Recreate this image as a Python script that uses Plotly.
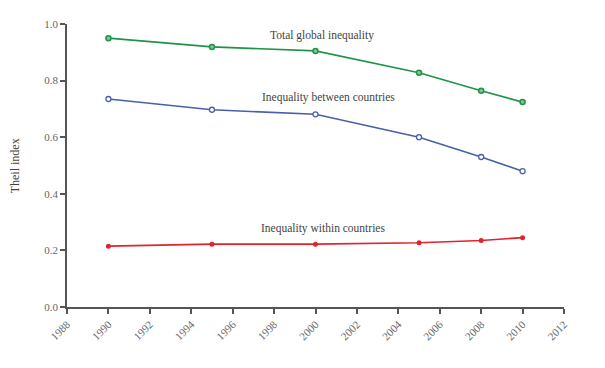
import plotly.graph_objects as go

years = [1990, 1995, 2000, 2005, 2008, 2010]
total_global = [0.950, 0.919, 0.905, 0.828, 0.764, 0.724]
between_countries = [0.735, 0.697, 0.681, 0.600, 0.530, 0.480]
within_countries = [0.215, 0.222, 0.222, 0.227, 0.235, 0.245]
x_ticks = list(range(1988, 2013, 2))
y_ticks = [0.0, 0.2, 0.4, 0.6, 0.8, 1.0]

FONT = "Liberation Serif"
fig = go.Figure()
fig.add_trace(go.Scatter(x=years, y=total_global, mode="lines+markers",
                         line=dict(color="#1f9447", width=1.6),
                         marker=dict(size=5, color="#7fc79a", symbol="circle",
                                     line=dict(color="#1f9447", width=1.5)),
                         showlegend=False))
fig.add_trace(go.Scatter(x=years, y=between_countries, mode="lines+markers",
                         line=dict(color="#4a5fa8", width=1.6),
                         marker=dict(size=5, color="white", symbol="circle",
                                     line=dict(color="#4a5fa8", width=1.3)),
                         showlegend=False))
fig.add_trace(go.Scatter(x=years, y=within_countries, mode="lines+markers",
                         line=dict(color="#e0242e", width=1.6),
                         marker=dict(size=5, color="#e0242e", symbol="circle"),
                         showlegend=False))

ann_font = dict(family=FONT, size=11.5, color="#444444")
fig.add_annotation(x=2000.3, y=0.958, text="Total global inequality", showarrow=False,
                   font=ann_font, yanchor="middle")
fig.add_annotation(x=2000.65, y=0.742, text="Inequality between countries", showarrow=False,
                   font=ann_font, yanchor="middle")
fig.add_annotation(x=2000.36, y=0.279, text="Inequality within countries", showarrow=False,
                   font=ann_font, yanchor="middle")
fig.add_annotation(xref="paper", yref="paper", x=-0.105, y=0.5, xanchor="center", yanchor="middle",
                   text="Theil index", textangle=-90, showarrow=False,
                   font=dict(family=FONT, size=12, color="#444444"))

fig.update_layout(
    width=605, height=368,
    margin=dict(l=59, r=49, t=16, b=69, autoexpand=False),
    plot_bgcolor="white", paper_bgcolor="white",
    font=dict(family=FONT, color="#555555"),
)
fig.update_xaxes(range=[1988, 2012], tickvals=x_ticks, ticktext=[str(t) for t in x_ticks],
                 tickangle=-45, showgrid=False, zeroline=False, showline=True, automargin=False,
                 linecolor="#555555", linewidth=1.5, ticks="outside", ticklen=5,
                 tickcolor="#555555", tickwidth=1.5, tickfont=dict(size=11, color="#666666"))
fig.update_yaxes(range=[0, 1.0], tickvals=y_ticks, ticktext=[f"{v:.1f}" for v in y_ticks],
                 showgrid=False, zeroline=False, showline=True, automargin=False,
                 linecolor="#555555", linewidth=1.5, ticks="outside", ticklen=5,
                 tickcolor="#555555", tickwidth=1.5, tickfont=dict(size=11, color="#666666"))

fig.write_html("out.html")
